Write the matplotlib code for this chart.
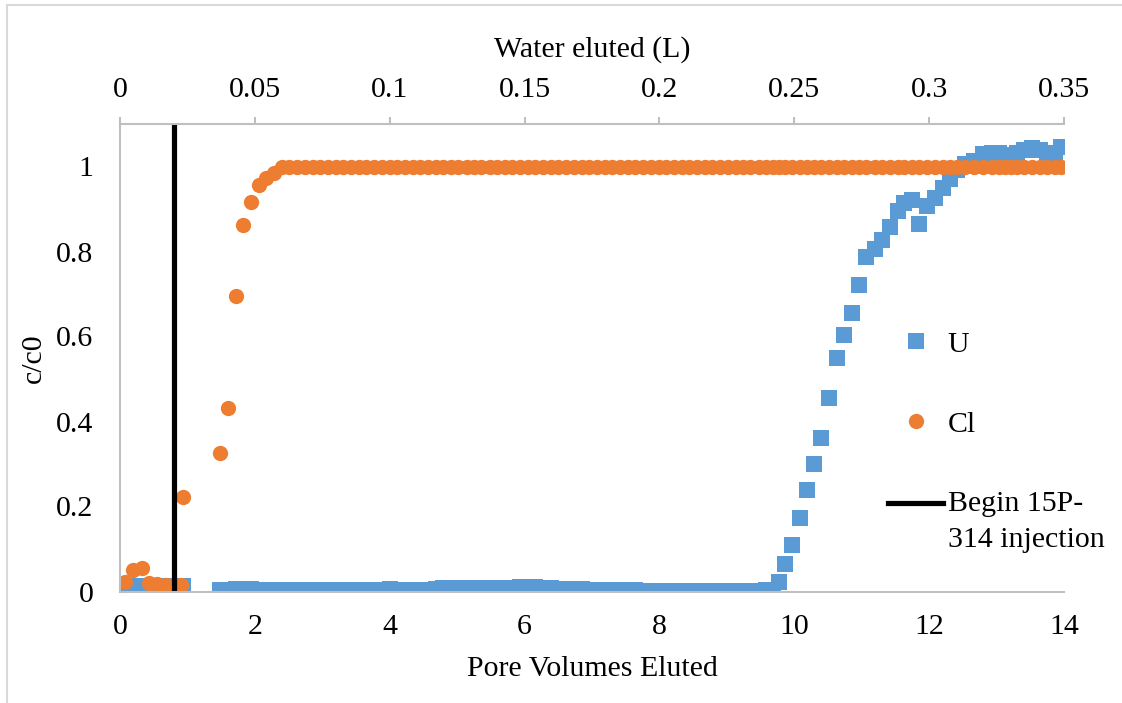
import matplotlib
matplotlib.use("Agg")
import numpy as np
import matplotlib.pyplot as plt
from matplotlib.patches import Rectangle
from matplotlib.legend_handler import HandlerLine2D

# pore volumes of each collected sample
pv = [0.07, 0.20, 0.32, 0.43, 0.55, 0.68, 0.80, 0.91, 0.94,
      1.49, 1.60, 1.72, 1.83, 1.94, 2.06, 2.17, 2.29, 2.40, 2.51,
      2.63, 2.74, 2.86, 2.97, 3.08, 3.20, 3.31, 3.43, 3.54, 3.65,
      3.77, 3.88, 4.00, 4.11, 4.22, 4.34, 4.45, 4.57, 4.68, 4.79,
      4.91, 5.02, 5.14, 5.25, 5.36, 5.48, 5.59, 5.71, 5.82, 5.93,
      6.05, 6.16, 6.28, 6.39, 6.50, 6.62, 6.73, 6.85, 6.96, 7.07,
      7.19, 7.30, 7.42, 7.53, 7.64, 7.76, 7.87, 7.99, 8.10, 8.21,
      8.33, 8.44, 8.56, 8.67, 8.78, 8.90, 9.01, 9.13, 9.24, 9.35,
      9.47, 9.58,
      9.69, 9.78, 9.86, 9.96, 10.08, 10.19, 10.29, 10.40, 10.51, 10.63,
      10.74, 10.85, 10.96, 11.07, 11.19, 11.30, 11.42, 11.54, 11.63, 11.74,
      11.85, 11.97, 12.09, 12.20, 12.31, 12.42, 12.53, 12.66, 12.80, 12.93,
      13.04, 13.13, 13.22, 13.31, 13.40, 13.52, 13.64, 13.75, 13.86, 13.95]

u = [0.014, 0.014, 0.014, 0.014, 0.014, 0.014, 0.014, 0.014, 0.013,
     0.004, 0.004, 0.005, 0.005, 0.005, 0.004, 0.004, 0.004, 0.004, 0.004,
     0.004, 0.004, 0.004, 0.004, 0.004, 0.004, 0.003, 0.003, 0.003, 0.004,
     0.004, 0.004, 0.005, 0.004, 0.003, 0.002, 0.003, 0.004, 0.006, 0.008,
     0.009, 0.009, 0.008, 0.008, 0.008, 0.008, 0.008, 0.009, 0.009, 0.010,
     0.010, 0.010, 0.009, 0.008, 0.007, 0.006, 0.005, 0.005, 0.004, 0.004,
     0.004, 0.003, 0.003, 0.003, 0.003, 0.002, 0.002, 0.002, 0.002, 0.002,
     0.002, 0.002, 0.002, 0.002, 0.002, 0.002, 0.002, 0.002, 0.002, 0.002,
     0.002, 0.003,
     0.004, 0.022, 0.065, 0.109, 0.173, 0.239, 0.300, 0.362, 0.456, 0.549,
     0.603, 0.656, 0.722, 0.786, 0.806, 0.826, 0.858, 0.895, 0.913, 0.922,
     0.865, 0.906, 0.925, 0.950, 0.971, 0.992, 1.005, 1.012, 1.030, 1.032,
     1.032, 1.026, 1.028, 1.032, 1.039, 1.043, 1.038, 1.032, 1.022, 1.046]

cl = [0.022, 0.050, 0.055, 0.019, 0.017, 0.015, 0.014, 0.015, 0.223,
      0.327, 0.431, 0.695, 0.863, 0.917, 0.957, 0.973, 0.984, 1.0, 1.0,
      1.0, 1.0, 1.0, 1.0, 1.0, 1.0, 1.0, 1.0, 1.0, 1.0,
      1.0, 1.0, 1.0, 1.0, 1.0, 1.0, 1.0, 1.0, 1.0, 1.0,
      1.0, 1.0, 1.0, 1.0, 1.0, 1.0, 1.0, 1.0, 1.0, 1.0,
      1.0, 1.0, 1.0, 1.0, 1.0, 1.0, 1.0, 1.0, 1.0, 1.0,
      1.0, 1.0, 1.0, 1.0, 1.0, 1.0, 1.0, 1.0, 1.0, 1.0,
      1.0, 1.0, 1.0, 1.0, 1.0, 1.0, 1.0, 1.0, 1.0, 1.0,
      1.0, 1.0,
      1.0, 1.0, 1.0, 1.0, 1.0, 1.0, 1.0, 1.0, 1.0, 1.0,
      1.0, 1.0, 1.0, 1.0, 1.0, 1.0, 1.0, 1.0, 1.0, 1.0,
      1.0, 1.0, 1.0, 1.0, 1.0, 1.0, 1.0, 1.0, 1.0, 1.0,
      1.0, 1.0, 1.0, 1.0, 1.0, 1.0, 1.0, 1.0, 1.0, 1.0]

# injection start marker
inj_x = [0.8, 0.8]
inj_y = [0, 1.1]

pv_ticks = [0, 2, 4, 6, 8, 10, 12, 14]
c_ticks = [0, 0.2, 0.4, 0.6, 0.8, 1]
litre_ticks = [0, 0.05, 0.1, 0.15, 0.2, 0.25, 0.3, 0.35]

FS = 21.5
plt.rcParams['font.family'] = ['Liberation Serif', 'DejaVu Serif']
plt.rcParams['font.size'] = FS


class FirstLineHandler(HandlerLine2D):
    # put the legend line next to the first text line, like Excel does
    def create_artists(self, *args, **kwargs):
        arts = super().create_artists(*args, **kwargs)
        for a in arts:
            a.set_ydata(np.asarray(a.get_ydata()) + 13.5)
        return arts


W, H = 1122, 703
fig = plt.figure(figsize=(W / 100, H / 100), dpi=100)
ax = fig.add_axes([120 / W, 1 - 591.5 / H, 944 / W, 467.5 / H])

gray = '#BFBFBF'

ax.plot(pv, u, 's', color='#5B9BD5', ms=11.3, mew=0, label='U')
ax.plot(pv, cl, 'o', color='#ED7D31', ms=11, mew=0, label='Cl')
inj, = ax.plot(inj_x, inj_y, color='black', lw=3.75,
               label='Begin 15P-\n314 injection')

ax.set_xlim(0, 14)
ax.set_ylim(0, 1.1)
ax.set_xticks(pv_ticks)
ax.set_xticklabels(['{:g}'.format(t) for t in pv_ticks])
ax.set_yticks(c_ticks)
ax.set_yticklabels(['{:g}'.format(t) for t in c_ticks])
ax.tick_params(axis='x', length=0, pad=16)
ax.tick_params(axis='y', length=0, pad=19)
for s in ['right', 'top']:
    ax.spines[s].set_visible(False)
for s in ['left', 'bottom']:
    ax.spines[s].set_color(gray)
    ax.spines[s].set_linewidth(1.5)
ax.set_xlabel('Pore Volumes Eluted', labelpad=12)
ax.set_ylabel('c/c0', labelpad=7)

ax2 = ax.twiny()
ax2.set_xlim(0, 0.35)
ax2.set_xticks(litre_ticks)
ax2.set_xticklabels(['{:g}'.format(t) for t in litre_ticks])
ax2.tick_params(axis='x', length=5, width=1.5, color=gray, pad=10)
for s in ['left', 'right', 'bottom']:
    ax2.spines[s].set_visible(False)
ax2.spines['top'].set_color(gray)
ax2.spines['top'].set_linewidth(1.5)
ax2.set_xlabel('Water eluted (L)', labelpad=15)

leg = ax.legend(loc='center left', bbox_to_anchor=(888 / W, 1 - 442 / H),
                bbox_transform=fig.transFigure, frameon=False, borderpad=0,
                borderaxespad=0, handlelength=1.85, handletextpad=0.15,
                labelspacing=1.78, fontsize=FS,
                handler_map={inj: FirstLineHandler()})
leg.get_texts()[2].set_linespacing(1.5)

fig.patches.append(Rectangle((7 / W, -0.01), 1.2, 1 - 5 / H + 0.01,
                             transform=fig.transFigure, fill=False,
                             edgecolor='#D9D9D9', lw=1.5))

fig.savefig('out.png', dpi=100)
